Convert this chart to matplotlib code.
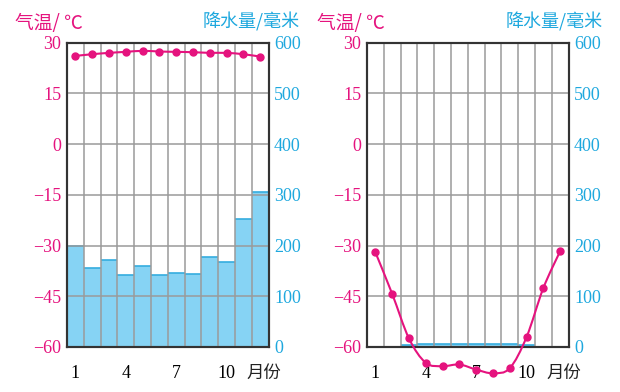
import matplotlib
matplotlib.use("Agg")
import matplotlib.pyplot as plt
import numpy as np
from matplotlib.path import Path
from matplotlib.patches import PathPatch

months = list(range(1, 13))
temp_a = [26.1, 26.6, 27.0, 27.3, 27.6, 27.4, 27.3, 27.2, 27.0, 27.0, 26.6, 25.9]
prec_a = [200, 155, 172, 142, 159, 141, 146, 143, 178, 168, 253, 306]
temp_b = [-32.0, -44.3, -57.5, -64.7, -65.7, -65.2, -66.7, -67.8, -66.3, -57.1, -42.6, -31.7]
prec_b = [0, 0, 3, 5, 5, 5, 5, 5, 5, 4, 0, 0]
temp_ticks = [30, 15, 0, -15, -30, -45, -60]
prec_ticks = [600, 500, 400, 300, 200, 100, 0]
x_ticks = [1, 4, 7, 10]

PINK = "#E5137E"
BLUE = "#1EA8DE"
BARFILL = "#86D3F4"
BAREDGE = "#35ADDF"
GRID = "#9A9A9A"
SPINE = "#333333"

SERIF = ["Liberation Serif", "DejaVu Serif"]
CJK = ["Noto Sans CJK SC", "DejaVu Sans"]

fig = plt.figure(figsize=(6.2, 3.92), dpi=100)


def smooth_path(xs, ys):
    xs = np.asarray(xs, float); ys = np.asarray(ys, float)
    verts = [(xs[0], ys[0])]
    codes = [Path.MOVETO]
    n = len(xs)
    for i in range(n - 1):
        p0 = (xs[max(i - 1, 0)], ys[max(i - 1, 0)])
        p1 = (xs[i], ys[i]); p2 = (xs[i + 1], ys[i + 1])
        p3 = (xs[min(i + 2, n - 1)], ys[min(i + 2, n - 1)])
        c1 = (p1[0] + (p2[0] - p0[0]) / 6, p1[1] + (p2[1] - p0[1]) / 6)
        c2 = (p2[0] - (p3[0] - p1[0]) / 6, p2[1] - (p3[1] - p1[1]) / 6)
        verts += [c1, c2, p2]
        codes += [Path.CURVE4] * 3
    return Path(verts, codes)


def add_titles(xl, xr):
    fig.text(xl / 620, 1 - 23 / 392, "气温/ ℃", fontsize=13.5, family=CJK, color=PINK,
             ha="left", va="center")
    fig.text(xr / 620, 1 - 22 / 392, "降水量/毫米", fontsize=13, family=CJK, color=BLUE,
             ha="right", va="center")


def panel(left, temps, precs):
    ax = fig.add_axes([left, 0.115, 0.325, 0.776])
    ax2 = ax.twinx()
    ax.set_zorder(ax2.get_zorder() + 1)
    ax.patch.set_visible(False)
    ax2.set_ylim(0, 600)
    ax2.bar(months, precs, width=1.0, color=BARFILL, edgecolor="none", zorder=1)
    for m, p in zip(months, precs):
        if p > 0:
            ax2.hlines(p, m - 0.5, m + 0.5, color=BAREDGE, lw=1.2, zorder=2)
    ax.set_xlim(0.5, 12.5)
    ax.set_ylim(-60, 30)
    for xv in np.arange(1.5, 12.5, 1.0):
        ax.axvline(xv, color=GRID, lw=1.1, zorder=0.5)
    for yv in temp_ticks:
        ax.axhline(yv, color=GRID, lw=1.1, zorder=0.5)
    ax.add_patch(PathPatch(smooth_path(months, temps), facecolor="none",
                           edgecolor=PINK, lw=1.5, clip_on=False, zorder=3))
    ax.plot(months, temps, "o", color=PINK, ms=5, clip_on=False, zorder=4)
    ax.set_yticks(temp_ticks)
    ax.set_yticklabels(["\u2212" + str(-t) if t < 0 else str(t) for t in temp_ticks],
                       color=PINK, fontsize=13, family=SERIF)
    ax2.set_yticks(prec_ticks)
    ax2.set_yticklabels([str(p) for p in prec_ticks], color=BLUE, fontsize=13, family=SERIF)
    ax.set_xticks(x_ticks)
    ax.set_xticklabels([str(x) for x in x_ticks], fontsize=13, family=SERIF)
    ax.tick_params(axis="x", length=0, pad=13)
    ax.tick_params(axis="y", length=0, pad=4)
    ax2.tick_params(axis="y", length=0, pad=4)
    ax.text(12.2, -67.8, "月份", fontsize=12.5, family=CJK, ha="center", va="center",
            color="#222222", clip_on=False)
    for sp in list(ax.spines.values()) + list(ax2.spines.values()):
        sp.set_color(SPINE)
        sp.set_linewidth(1.5)
    return ax


panel(67 / 620, temp_a, prec_a)
panel(367 / 620, temp_b, prec_b)
add_titles(15, 300)
add_titles(317, 603)

fig.savefig("out.png", dpi=100)
